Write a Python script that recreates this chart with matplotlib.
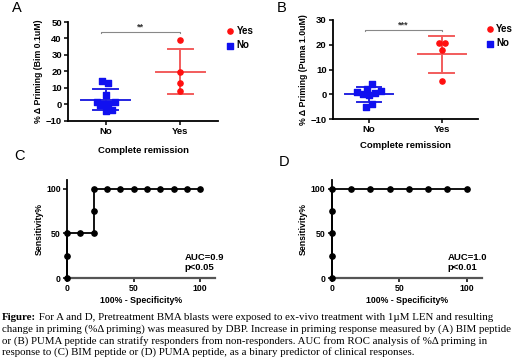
import numpy as np
import matplotlib
matplotlib.use("Agg")
import matplotlib.pyplot as plt

plt.rcParams['font.family'] = ['Liberation Sans', 'DejaVu Sans']
plt.rcParams['font.weight'] = 'bold'

# ---- data ----
groups = ["No", "Yes"]

# A: Bim 0.1uM
a_no = [14, 13, 5.6, 1.6, 1.2, -0.8, 0, 0, -3.4, -4]
a_no_dx = [-0.045, 0.036, 0, -0.12, 0.12, -0.08, -0.036, 0.036, 0.08, 0]
a_yes = [38.8, 19.6, 12.6, 7.8]
a_yes_dx = [0, 0, 0, 0]

# B: Puma 1.0uM
b_no = [4.0, 2.2, 0.9, 0.1, -0.3, 0.7, 1.2, -4.0, -5.2]
b_no_dx = [0.036, -0.03, -0.16, -0.08, 0, 0.08, 0.16, 0.036, -0.04]
b_yes = [20.7, 20.7, 17.8, 5.2]
b_yes_dx = [-0.036, 0.045, 0, 0]

# C / D: ROC curves (100% - specificity, sensitivity)
c_fpr = [0, 0, 0, 10, 20, 20, 20, 30, 40, 50, 60, 70, 80, 90, 100]
c_tpr = [0, 25, 50, 50, 50, 75, 100, 100, 100, 100, 100, 100, 100, 100, 100]
d_fpr = [0, 0, 0, 0, 0, 14.29, 28.57, 42.86, 57.14, 71.43, 85.71, 100]
d_tpr = [0, 25, 50, 75, 100, 100, 100, 100, 100, 100, 100, 100]

RED = "#ff1010"
RED_BAR = "#f25c5c"
BLUE = "#1010f0"
BLUE_BAR = "#2525e0"

fig = plt.figure(figsize=(5.2, 3.62), dpi=100)


def style_axes(ax, labelsize=6.8):
    for s in ["top", "right"]:
        ax.spines[s].set_visible(False)
    for s in ["left", "bottom"]:
        ax.spines[s].set_linewidth(1.3)
    ax.tick_params(direction="out", length=3, width=1.1, labelsize=labelsize, pad=1.5)
    for lab in ax.get_xticklabels() + ax.get_yticklabels():
        lab.set_fontweight("bold")


def scatter_panel(rect, no, no_dx, yes, yes_dx, ylim, yticks, ylabel, star, star_y, labelpad):
    ax = fig.add_axes(rect)
    ax.scatter(np.array(no_dx), no, marker="s", s=13, color=BLUE, zorder=3, label="No", clip_on=False)
    ax.scatter(1 + np.array(yes_dx), yes, marker="o", s=14, color=RED, zorder=3, label="Yes", clip_on=False)
    for x, vals, col in [(0, no, BLUE_BAR), (1, yes, RED_BAR)]:
        m = np.mean(vals)
        sd = np.std(vals, ddof=1)
        ax.plot([x - 0.33, x + 0.33], [m, m], color=col, lw=1.4, zorder=2)
        ax.plot([x, x], [m - sd, m + sd], color=col, lw=1.4, zorder=2)
        for v in (m - sd, m + sd):
            ax.plot([x - 0.17, x + 0.17], [v, v], color=col, lw=1.4, zorder=2)
    # significance bracket
    tick = (ylim[1] - ylim[0]) * 0.012
    ax.plot([-0.06, -0.06, 1, 1], [star_y - tick, star_y, star_y, star_y - tick],
            color="#888888", lw=0.8)
    ax.text(0.47, star_y + tick * 0.5, star, ha="center", va="bottom", fontsize=6.5,
            fontweight="bold", color="#333333")
    ax.set_xlim(-0.5, 1.5)
    ax.set_ylim(*ylim)
    ax.set_yticks(yticks)
    ax.set_xticks([0, 1])
    ax.set_xticklabels(groups, fontsize=7)
    ax.set_ylabel(ylabel, fontsize=6.3, fontweight="bold", labelpad=2)
    ax.set_xlabel("Complete remission", fontsize=6.8, fontweight="bold", labelpad=labelpad)
    style_axes(ax)
    h, l = ax.get_legend_handles_labels()
    ax.legend(h[::-1], l[::-1], loc="upper left", bbox_to_anchor=(1.02, 1.0), frameon=False,
              handletextpad=0.2, borderaxespad=0, labelspacing=0.45,
              handlelength=1.0, markerscale=1.0, prop={"weight": "bold", "size": 7})
    return ax


def roc_panel(rect, fpr, tpr, auc_txt, p_txt, tx):
    ax = fig.add_axes(rect)
    ax.plot(fpr, tpr, color="black", lw=1.3, marker="o", markersize=3.8, clip_on=False, zorder=3)
    ax.set_xlim(0, 111)
    ax.set_ylim(0, 110)
    ax.set_xticks([0, 50, 100])
    ax.set_yticks([0, 50, 100])
    ax.set_ylabel("Sensitivity%", fontsize=6.3, fontweight="bold", labelpad=2)
    ax.set_xlabel("100% - Specificity%", fontsize=6.3, fontweight="bold", labelpad=2)
    ax.text(tx, 23.5, auc_txt, fontsize=6.8, fontweight="bold", va="center")
    ax.text(tx, 12.3, p_txt, fontsize=6.8, fontweight="bold", va="center")
    style_axes(ax, labelsize=6.3)
    ax.spines["bottom"].set_color("#555555")
    ax.spines["bottom"].set_linewidth(1.6)
    return ax


scatter_panel([0.131, 0.667, 0.288, 0.272], a_no, a_no_dx, a_yes, a_yes_dx,
              (-10, 50), range(-10, 51, 10), "% \u0394 Priming (Bim 0.1uM)", "**", 43.8, 7)
scatter_panel([0.640, 0.671, 0.279, 0.274], b_no, b_no_dx, b_yes, b_yes_dx,
              (-10, 30), range(-10, 31, 10), "% \u0394 Priming (Puma 1.0uM)", "***", 26, 5)

roc_panel([0.129, 0.232, 0.284, 0.271], c_fpr, c_tpr, "AUC=0.9", "p<0.05", 88.5)
roc_panel([0.638, 0.232, 0.288, 0.271], d_fpr, d_tpr, "AUC=1.0", "p<0.01", 86)

for x, y, s in [(12, 8, "A"), (277, 8, "B"), (14, 156, "C"), (279, 162, "D")]:
    fig.text(x / 520, 1 - y / 362, s, fontsize=10.5, fontweight="normal", va="center", ha="left")

# caption
cap = fig.add_axes([0, 0, 1, 1])
cap.axis("off")
cap.set_xlim(0, 520)
cap.set_ylim(362, 0)
lines = [
    "For A and D, Pretreatment BMA blasts were exposed to ex-vivo treatment with 1\u00b5M LEN and resulting",
    "change in priming (%\u0394 priming) was measured by DBP. Increase in priming response measured by (A) BIM peptide",
    "or (B) PUMA peptide can stratify responders from non-responders. AUC from ROC analysis of %\u0394 priming in",
    "response to (C) BIM peptide or (D) PUMA peptide, as a binary predictor of clinical responses.",
]
serif = ['Liberation Serif', 'DejaVu Serif']
fs = 7.85
t = cap.text(2, 317, "Figure:", family=serif, fontsize=fs, fontweight="bold", va="center")
cap.annotate(" " + lines[0], xy=(1, 0.5), xycoords=t, va="center", ha="left",
             family=serif, fontsize=fs, fontweight="normal")
for i, ln in enumerate(lines[1:]):
    cap.text(2, 317 + 11.8 * (i + 1), ln, family=serif, fontsize=fs, fontweight="normal", va="center")

fig.savefig("out.png", dpi=100)
